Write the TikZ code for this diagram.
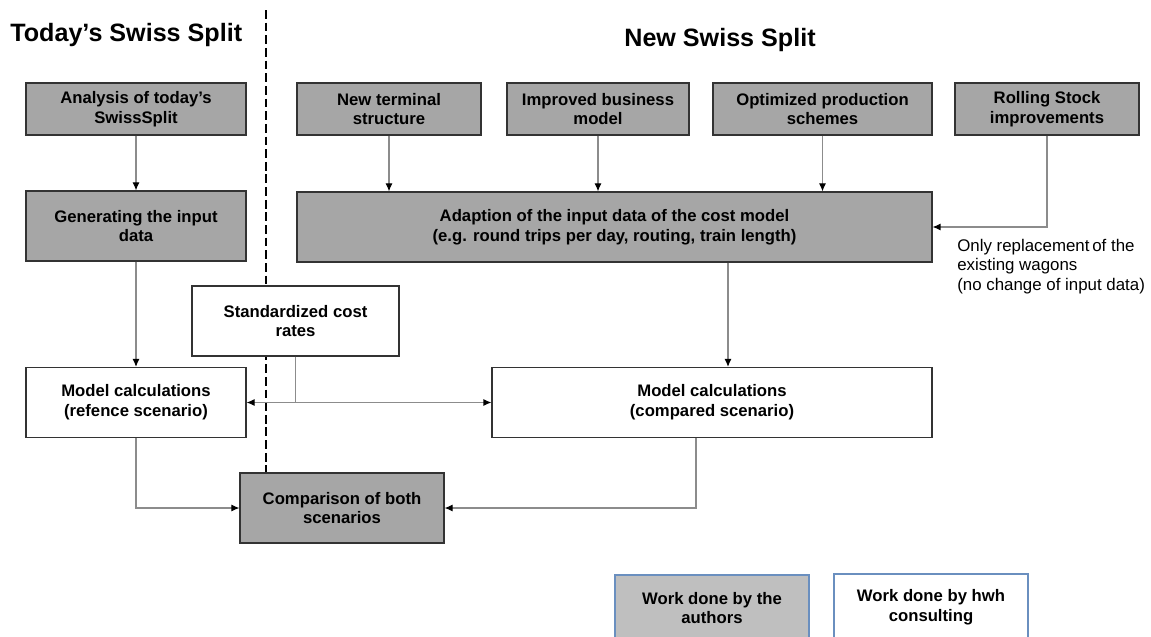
\documentclass[tikz,border=0pt]{standalone}
\usepackage{fontspec}
\setmainfont{Liberation Sans}
\usetikzlibrary{arrows.meta}
\definecolor{boxgray}{HTML}{A6A6A6}
\definecolor{leggray}{HTML}{BFBFBF}
\definecolor{legblue}{HTML}{6A8FBF}
\definecolor{linegray}{HTML}{8C8C8C}
\begin{document}
\begin{tikzpicture}[
        x=0.02cm, y=-0.02cm,
        every node/.style={font=\fontsize{9.5}{11.3}\selectfont\bfseries},
        % Box Styles
        basebox/.style={
            rectangle,
            draw=black!80,
            line width=0.75pt,
            align=center,
            inner sep=1mm,
            minimum height=1.4cm
        },
        authorbox/.style={basebox, fill=boxgray},
        hwhbox/.style={basebox, fill=white},
        legbox/.style={basebox, draw=legblue, minimum width=3.88cm, minimum height=1.32cm},
        titlelabel/.style={font=\fontsize{14.3}{16}\selectfont\bfseries, inner sep=0pt},
        % Connector Styles
        arrow/.style={-{Latex[length=4.5pt,width=4pt,color=black]}, line width=0.6pt, draw=linegray},
        divider/.style={line width=1.7pt, dash pattern=on 5pt off 2.2pt}
    ]
    \useasboundingbox (0,0) rectangle (1151,636);

    % --- Titles ---
    \node[titlelabel, anchor=base west] (ttoday) at (10,41) {Today’s Swiss Split};
    \node[titlelabel, anchor=base] (tnew) at (720,46) {New Swiss Split};

    % --- Divider between both sides ---
    \coordinate (dtop) at (266,10);
    \coordinate (dbot) at (266,473);
    \draw[divider] (dtop) -- (dbot);

    % --- Today's Swiss Split (left) ---
    \node[authorbox, minimum width=4.4cm, minimum height=1.04cm] (ana) at (136,109) {Analysis of today’s\\SwissSplit};
    \node[authorbox, minimum width=4.4cm] (gen) at (136,226) {Generating the input\\data};
    \node[hwhbox, minimum width=4.4cm] (ref) at (136,402.5) {Model calculations\\(refence scenario)};

    % --- New Swiss Split (top row) ---
    \node[authorbox, minimum width=3.68cm, minimum height=1.04cm] (term) at (389,109) {New terminal\\structure};
    \node[authorbox, minimum width=3.64cm, minimum height=1.04cm] (biz) at (598,109) {Improved business\\model};
    \node[authorbox, minimum width=4.38cm, minimum height=1.04cm] (opt) at (822.5,109) {Optimized production\\schemes};
    \node[authorbox, minimum width=3.68cm, minimum height=1.04cm] (roll) at (1047,109) {Rolling Stock\\improvements};

    \node[authorbox, minimum width=12.7cm] (adapt) at (614.5,227) {Adaption of the input data of the cost model\\(e.g. round trips per day, routing, train length)};
    \node[hwhbox, minimum width=4.14cm] (std) at (295.5,321) {Standardized cost\\rates};
    \node[hwhbox, minimum width=8.8cm] (comp) at (712,402.5) {Model calculations\\(compared scenario)};
    \node[authorbox, minimum width=4.08cm] (cmp) at (342,508) {Comparison of both\\scenarios};

    % --- Note ---
    \node[anchor=north west, inner sep=0pt, align=left, font=\fontsize{9.6}{11.3}\selectfont] (note) at (957,238.5)
        {Only replacement\,of the\\existing wagons\\(no change of input data)};

    % --- Legend ---
    \node[legbox, fill=leggray] (lega) at (712,608) {Work done by the\\authors};
    \node[legbox, fill=white] (legb) at (931,607) {Work done by hwh\\consulting};

    % --- Paths & Connections ---
    \draw[arrow] (ana.south) -- (gen.north);
    \draw[arrow] (gen.south) -- (ref.north);
    \draw[arrow] (term.south) -- (term.south |- adapt.north);
    \draw[arrow] (biz.south) -- (biz.south |- adapt.north);
    \draw[arrow] (opt.south) -- (opt.south |- adapt.north);
    \draw[arrow] (roll.south) |- (adapt.east);
    \draw[arrow] ([xshift=0.32cm]comp.north |- adapt.south) -- ([xshift=0.32cm]comp.north);

    \draw[arrow] (std.south) |- (ref.east);
    \draw[arrow] (std.south) |- (comp.west);

    \draw[arrow] (ref.south) |- (cmp.west);
    \draw[arrow] ([xshift=-0.32cm]comp.south) |- (cmp.east);

    \end{tikzpicture}
\end{document}
